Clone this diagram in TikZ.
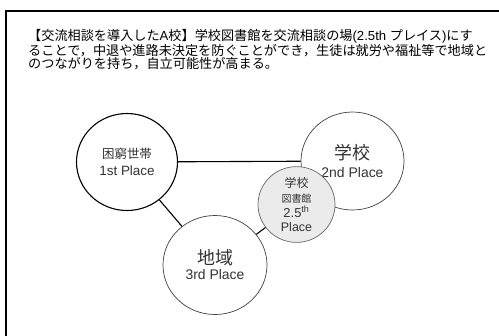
\documentclass[tikz,border=0pt]{standalone}
\usepackage{fontspec}
\setmainfont{Noto Sans CJK JP}
\newfontfamily\lat{Liberation Sans}
\usetikzlibrary{shapes.geometric}
\begin{document}
\begin{tikzpicture}[x=1bp,y=-1bp,
  place/.style={ellipse,draw=#1,fill=white,inner sep=0pt,align=center,text=black!80},
  link/.style={line width=1.1bp,black},
  frame/.style={line width=1.6bp,black}]
\useasboundingbox (0,0) rectangle (499,335);
\coordinate (fb) at (6,336);
\coordinate (fc) at (6,11);
\coordinate (fr) at (500,11);
\draw[frame] (fb) -- (fc) -- (fr);
\node[anchor=north west,align=left,inner sep=0pt,font=\fontsize{13.2}{13.4}\selectfont] (txt) at (28,29)
 {【交流相談を導入した{\lat A}校】学校図書館を交流相談の場{\lat (2.5th }プレイス{\lat )}にす\\
 ることで，中退や進路未決定を防ぐことができ，生徒は就労や福祉等で地域と\\
 のつながりを持ち，自立可能性が高まる。};
\node[place=black,line width=1.1bp,minimum width=101bp,minimum height=97bp] (c1) at (127,162)
 {\fontsize{12.5}{14}\selectfont 困窮世帯\\[5bp]\fontsize{13.5}{16}\selectfont\lat 1st Place};
\node[place=black!75,line width=0.7bp,minimum width=103bp,minimum height=98bp] (c2) at (352.5,161)
 {\fontsize{18}{20}\selectfont 学校\\[6bp]\fontsize{14}{17}\selectfont\lat 2nd Place};
\node[place=black!75,line width=0.7bp,minimum width=104bp,minimum height=99bp] (c3) at (215,265)
 {\fontsize{18}{20}\selectfont 地域\\[3bp]\fontsize{14}{17}\selectfont\lat 3rd Place};
\node[place=black!60,fill=black!8,line width=0.7bp,minimum width=77bp,minimum height=69bp] (lib) at (296.5,204.5)
 {\fontsize{12}{14}\selectfont 学校\\[2.5bp]図書館\\[3bp]{\lat\fontsize{13}{15}\selectfont 2.5\textsuperscript{th}}\\[2bp]{\lat\fontsize{12.5}{15}\selectfont Place}};
\draw[link] (c1) -- (c2);
\draw[link] (c1) -- (c3);
\draw[link] (c3) -- (lib);
\end{tikzpicture}
\end{document}
